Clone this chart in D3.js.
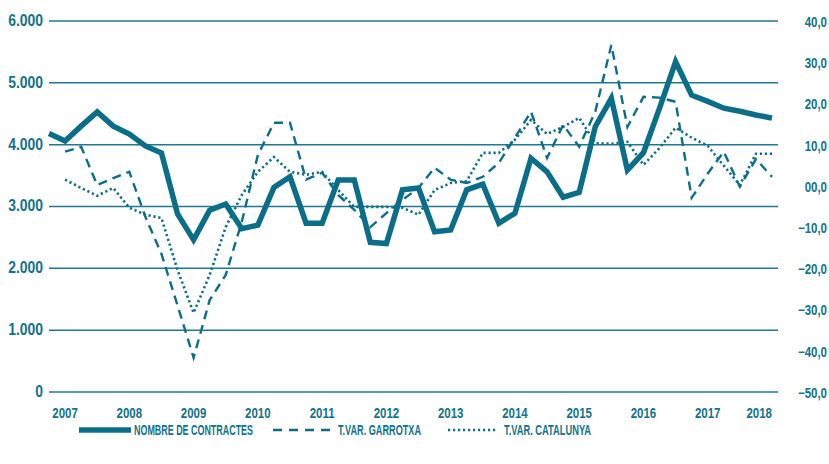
<!DOCTYPE html>
<html>
<head>
<meta charset="utf-8">
<script src="https://cdn.jsdelivr.net/npm/d3@7"></script>
<style>
  body { margin: 0; background: #fff; }
  text { font-family: "Liberation Sans", Arial, sans-serif; font-weight: bold; fill: #12728c; }
</style>
</head>
<body>
<svg id="svg1"></svg>
<script>
// quarterly periods, 2006 T4 .. 2018 T1
var quarters = ["2006-4",
  "2007-1","2007-2","2007-3","2007-4",
  "2008-1","2008-2","2008-3","2008-4",
  "2009-1","2009-2","2009-3","2009-4",
  "2010-1","2010-2","2010-3","2010-4",
  "2011-1","2011-2","2011-3","2011-4",
  "2012-1","2012-2","2012-3","2012-4",
  "2013-1","2013-2","2013-3","2013-4",
  "2014-1","2014-2","2014-3","2014-4",
  "2015-1","2015-2","2015-3","2015-4",
  "2016-1","2016-2","2016-3","2016-4",
  "2017-1","2017-2","2017-3","2017-4",
  "2018-1"];

var contractes = [4180, 4060, 4300, 4530, 4300, 4170, 3980, 3865, 2880, 2460,
                  2940, 3040, 2640, 2700, 3310, 3480, 2730, 2730, 3430, 3430,
                  2420, 2400, 3270, 3300, 2590, 2620, 3270, 3360, 2730, 2890,
                  3780, 3560, 3150, 3230, 4290, 4750, 3590, 3870, 4590, 5340,
                  4800, 4700, 4590, 4540, 4480, 4430];

var varGarrotxa = [null, 8.3, 9.5, 0.2, 1.9, 3.4, -7.5, -16.5, -29.0, -41.7,
                   -27.7, -21.6, -8.7, 7.5, 15.3, 15.3, 1.5, 3.2, -2.2, -5.8,
                   -10.0, -6.6, -3.4, -0.5, 4.4, 1.5, 0.7, 2.2, 5.6, 11.7,
                   18.0, 6.8, 14.8, 9.5, 18.0, 34.2, 14.3, 21.6, 21.4, 20.4,
                   -2.9, 3.0, 8.3, -0.2, 6.5, 2.2];

var varCatalunya = [null, 1.5, -0.5, -2.4, -0.5, -5.3, -7.0, -7.8, -20.4, -30.8,
                    -21.6, -10.0, -2.2, 3.4, 7.0, 3.4, 2.7, 3.4, -1.0, -5.1,
                    -5.1, -5.1, -5.3, -7.0, -1.0, 0.7, 1.2, 8.0, 8.0, 11.2,
                    16.0, 12.6, 14.3, 16.5, 10.4, 10.2, 10.7, 5.1, 9.2, 14.1,
                    11.7, 9.7, 4.9, 0.2, 7.8, 7.8];

var years = [2007, 2008, 2009, 2010, 2011, 2012, 2013, 2014, 2015, 2016, 2017, 2018];
var leftTicks = [0, 1000, 2000, 3000, 4000, 5000, 6000];
var rightTicks = [40, 30, 20, 10, 0, -10, -20, -30, -40, -50];
var legendLabels = ["NOMBRE DE CONTRACTES", "T.VAR. GARROTXA", "T.VAR. CATALUNYA"];

var color = "#0b6e88";
var narrow = 0.82;   // squeeze Liberation Sans to look like a narrow face
var width = 829, height = 464;
var svg = d3.select('#svg1').attr("width", width).attr("height", height);

function toYear(q) {
    var p = q.split("-");
    return +p[0] + (+p[1] - 1) / 4;
}
var t = quarters.map(toYear);

var left = 49, right = 778;
var xScale = d3.scaleLinear().domain([2006.75, 2018]).range([49, 772]);
var yLeft = d3.scaleLinear().domain([0, 6000]).range([392, 21]);
var yRight = d3.scaleLinear().domain([-50, 40]).range([392, 21]);

function place(x, y) {
    return "translate(" + x + "," + y + ") scale(" + narrow + ",1)";
}

// grid
svg.append("g").selectAll("line").data(leftTicks).enter().append("line")
    .attr("x1", left).attr("x2", right)
    .attr("y1", function(d){ return yLeft(d); })
    .attr("y2", function(d){ return yLeft(d); })
    .attr("stroke", "#1f7891").attr("stroke-width", 1.5);

// left axis labels
svg.append("g").selectAll("text").data(leftTicks).enter().append("text")
    .attr("transform", function(d){ return place(43, yLeft(d) - 1); })
    .attr("dy", "0.35em").attr("text-anchor", "end")
    .style("font-size", "17px")
    .text(function(d){ return d === 0 ? "0" : d3.format(",")(d).replace(",", "."); });

// right axis labels
svg.append("g").selectAll("text").data(rightTicks).enter().append("text")
    .attr("transform", function(d){ return place(827, yRight(d) + 1); })
    .attr("dy", "0.35em").attr("text-anchor", "end")
    .style("font-size", "14px")
    .text(function(d){ return d === 0 ? "00,0" : d3.format(".1f")(d).replace(".", ","); });

// year labels
svg.append("g").selectAll("text").data(years).enter().append("text")
    .attr("transform", function(d){ return place(Math.min(xScale(d), right), 413); })
    .attr("dy", "0.35em")
    .attr("text-anchor", function(d){ return xScale(d) + 13 > right ? "end" : "middle"; })
    .style("font-size", "14px")
    .text(function(d){ return d; });

var idx = d3.range(quarters.length);
function makeLine(values, scale) {
    return d3.line()
        .defined(function(i){ return values[i] !== null; })
        .x(function(i){ return xScale(t[i]); })
        .y(function(i){ return scale(values[i]); });
}

svg.append("path").datum(idx)
    .attr("d", makeLine(varCatalunya, yRight))
    .attr("fill", "none").attr("stroke", color)
    .attr("stroke-width", 2.6).attr("stroke-dasharray", "2.2,2.8");

svg.append("path").datum(idx)
    .attr("d", makeLine(varGarrotxa, yRight))
    .attr("fill", "none").attr("stroke", color)
    .attr("stroke-width", 2.4).attr("stroke-dasharray", "9,6");

svg.append("path").datum(idx)
    .attr("d", makeLine(contractes, yLeft))
    .attr("fill", "none").attr("stroke", color)
    .attr("stroke-width", 5.5).attr("stroke-linejoin", "miter");

// legend
var legend = [
    {x1: 79, x2: 131, tx: 134, w: 5.5, dash: null, tl: 119},
    {x1: 273, x2: 332, tx: 338, w: 2.4, dash: "9,7", tl: 83},
    {x1: 448, x2: 498, tx: 504, w: 2.6, dash: "2.2,2.8", tl: 87}
];
var lg = svg.append("g");
legend.forEach(function(d, i){
    lg.append("line").attr("x1", d.x1).attr("x2", d.x2).attr("y1", 430).attr("y2", 430)
        .attr("stroke", color).attr("stroke-width", d.w)
        .attr("stroke-dasharray", d.dash);
    lg.append("text").attr("x", d.tx).attr("y", 430).attr("dy", "0.36em")
        .style("font-size", "15px")
        .attr("textLength", d.tl).attr("lengthAdjust", "spacingAndGlyphs")
        .text(legendLabels[i]);
});
</script>
</body>
</html>
